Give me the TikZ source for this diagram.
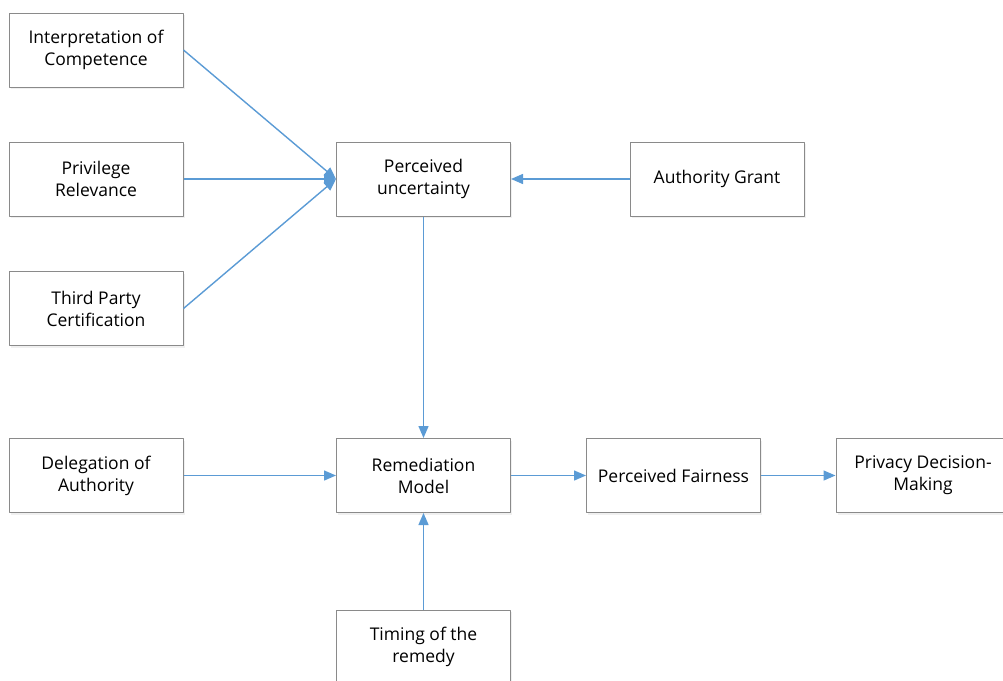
\documentclass[tikz,border=0pt]{standalone}
\usepackage{fontspec}
\setmainfont{Open Sans}
\usetikzlibrary{arrows.meta,shadows}
\definecolor{linkblue}{HTML}{5B9BD5}
\definecolor{boxgray}{HTML}{8A8A8A}
\begin{document}
\begin{tikzpicture}[>={Triangle[length=12pt,width=10pt]},line join=round,x=1pt,y=-1pt,
    font=\fontsize{17.5}{22}\selectfont,
    box/.style={draw=boxgray,fill=white,line width=1pt,minimum width=174pt,minimum height=74pt,
      align=center,inner sep=0pt,drop shadow={opacity=0.12,shadow xshift=1.5pt,shadow yshift=-2pt}},
    link/.style={->,color=linkblue,line width=1.4pt}]
    \useasboundingbox (0,0) rectangle (1003,680);
    \clip (0,0) rectangle (1003,680);
    % factor boxes
    \node[box] (compet) at (96,50) {Interpretation of\\Competence};
    \node[box] (privil) at (96,179) {Privilege\\Relevance};
    \node[box] (third) at (96,308.5) {Third Party\\Certification};
    \node[box] (deleg) at (96,475.5) {Delegation of\\Authority};
    \node[box] (uncert) at (423.5,179) {Perceived\\uncertainty};
    \node[box] (grant) at (717,179) {Authority Grant};
    \node[box] (remed) at (423.5,475.5) {Remediation\\Model};
    \node[box] (fair) at (673.5,475.5) {Perceived Fairness};
    \node[box] (privacy) at (923,475.5) {Privacy Decision-\\Making};
    \node[box] (timing) at (423.5,647) {Timing of the\\remedy};
    % connectors
    \draw[link] (compet.east) -- (uncert.west);
    \draw[link] (privil) -- (uncert);
    \draw[link] (third.east) -- (uncert.west);
    \draw[link] (grant) -- (uncert);
    \draw[link] (uncert) -- (remed);
    \draw[link] (deleg) -- (remed);
    \draw[link] (timing) -- (remed);
    \draw[link] (remed) -- (fair);
    \draw[link] (fair) -- (privacy);
\end{tikzpicture}
\end{document}
